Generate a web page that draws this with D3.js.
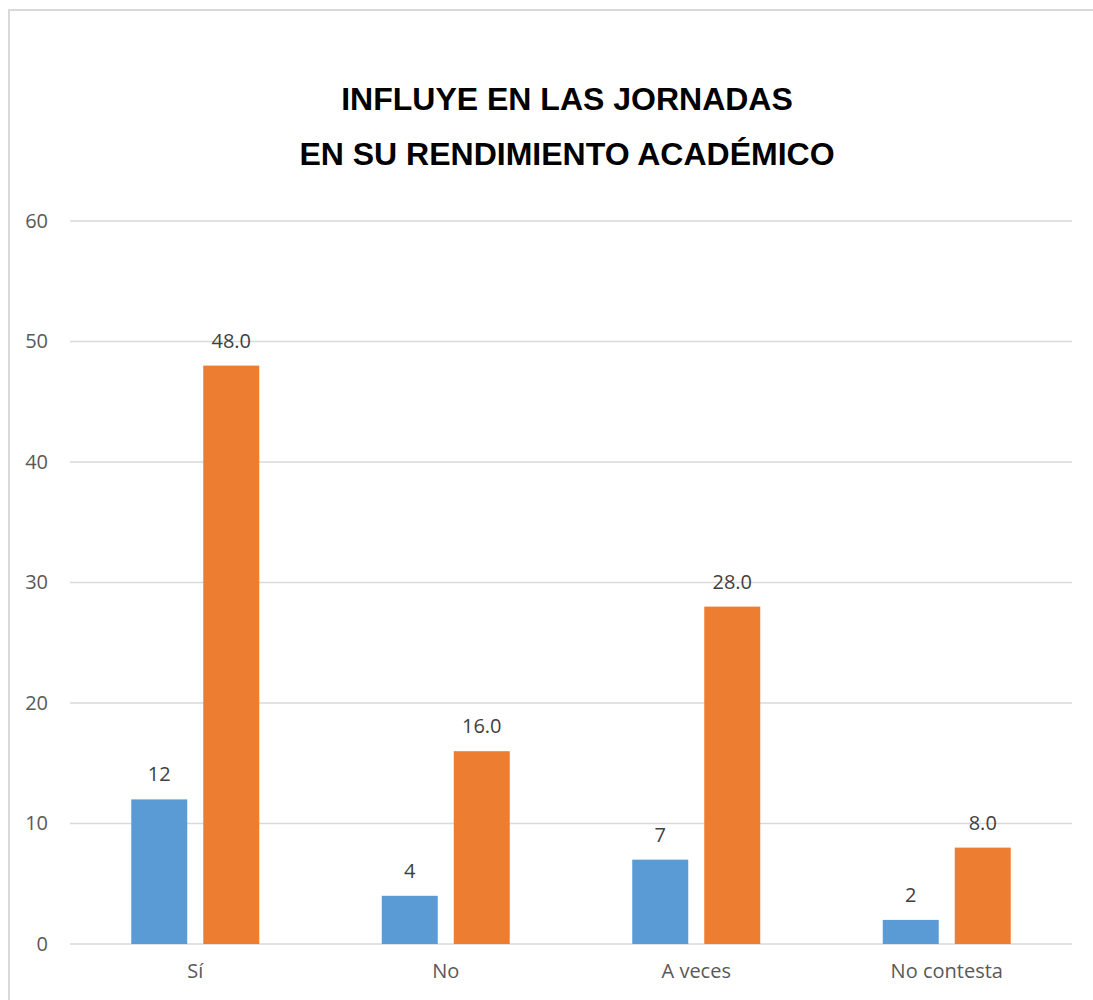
<!DOCTYPE html>
<html>
<head>
<meta charset="utf-8">
<script src="https://cdn.jsdelivr.net/npm/d3@7"></script>
<style>
  body { margin: 0; background: #fff; overflow: hidden; }
  svg { display: block; }
</style>
</head>
<body>
<svg id="chart" width="1093" height="1000"></svg>
<script>
// data
var categories = ["Sí", "No", "A veces", "No contesta"];
var counts = [12, 4, 7, 2];
var percents = [48.0, 16.0, 28.0, 8.0];
var yTicks = [0, 10, 20, 30, 40, 50, 60];
var titleLines = ["INFLUYE EN LAS JORNADAS", "EN SU RENDIMIENTO ACADÉMICO"];

var colors = ["#5b9bd5", "#ed7d31"];
var gridColor = "#d9d9d9";
var textColor = "#595959";
var labelFont = "'Open Sans', 'Noto Sans', sans-serif";

var plot = { left: 70, right: 1072, top: 221, bottom: 944 };

var svg = d3.select("#chart");

// chart border: only the top and left edges are inside the picture
svg.append("line")
  .attr("x1", 9).attr("x2", 1093).attr("y1", 10).attr("y2", 10)
  .attr("stroke", gridColor).attr("stroke-width", 2);
svg.append("line")
  .attr("x1", 9).attr("x2", 9).attr("y1", 9).attr("y2", 1000)
  .attr("stroke", gridColor).attr("stroke-width", 2);

// title
svg.append("g").selectAll("text")
  .data(titleLines)
  .enter().append("text")
    .attr("x", 567)
    .attr("y", function(d, i) { return 110 + i * 55; })
    .attr("text-anchor", "middle")
    .attr("font-family", "'Liberation Sans', Arial, sans-serif")
    .attr("font-weight", "bold")
    .attr("font-size", "32px")
    .attr("fill", "#000")
    .text(function(d) { return d; });

var x0 = d3.scaleBand()
  .domain(categories)
  .range([plot.left, plot.right]);

var y = d3.scaleLinear()
  .domain([0, 60])
  .range([plot.bottom, plot.top]);

var barW = 56, barGap = 16;

// gridlines
svg.append("g").selectAll("line")
  .data(yTicks)
  .enter().append("line")
    .attr("x1", plot.left).attr("x2", plot.right)
    .attr("y1", function(d) { return y(d); })
    .attr("y2", function(d) { return y(d); })
    .attr("stroke", gridColor)
    .attr("stroke-width", 1.3);

// y axis labels
var yAxis = d3.axisLeft(y).tickValues(yTicks).tickSize(0).tickPadding(0);
var yg = svg.append("g")
  .attr("transform", "translate(48,0)")
  .call(yAxis);
yg.select(".domain").remove();
yg.selectAll("text")
  .attr("font-family", labelFont)
  .attr("font-size", "20px")
  .attr("fill", textColor);

// x axis labels
var xAxis = d3.axisBottom(x0).tickSize(0).tickPadding(0);
var xg = svg.append("g")
  .attr("transform", "translate(0," + (plot.bottom + 20) + ")")
  .call(xAxis);
xg.select(".domain").remove();
xg.selectAll("text")
  .attr("font-family", labelFont)
  .attr("font-size", "20px")
  .attr("fill", textColor);

// bars
var rows = categories.map(function(c, i) {
  return { cat: c, vals: [
    { s: 0, v: counts[i], label: d3.format("d")(counts[i]) },
    { s: 1, v: percents[i], label: d3.format(".1f")(percents[i]) }
  ]};
});

var groups = svg.append("g").selectAll("g")
  .data(rows)
  .enter().append("g")
    .attr("transform", function(d) {
      var cx = x0(d.cat) + x0.bandwidth() / 2;
      return "translate(" + (cx - barW - barGap / 2) + ",0)";
    });

groups.selectAll("rect")
  .data(function(d) { return d.vals; })
  .enter().append("rect")
    .attr("x", function(d) { return d.s * (barW + barGap); })
    .attr("y", function(d) { return y(d.v); })
    .attr("width", barW)
    .attr("height", function(d) { return y(0) - y(d.v); })
    .attr("fill", function(d) { return colors[d.s]; });

groups.selectAll("text")
  .data(function(d) { return d.vals; })
  .enter().append("text")
    .attr("x", function(d) { return d.s * (barW + barGap) + barW / 2; })
    .attr("y", function(d) { return y(d.v) - 18; })
    .attr("text-anchor", "middle")
    .attr("font-family", labelFont)
    .attr("font-size", "20px")
    .attr("fill", "#404040")
    .text(function(d) { return d.label; });
</script>
</body>
</html>
